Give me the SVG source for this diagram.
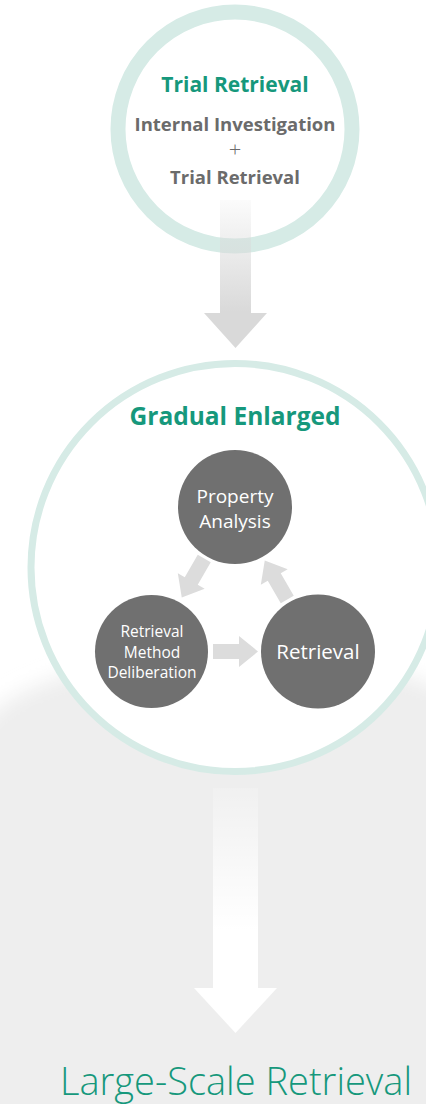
<svg xmlns="http://www.w3.org/2000/svg" width="426" height="1104" viewBox="0 0 426 1104">
<style>
.ring{fill:#ffffff;stroke:#d6ebe6}
.node{fill:#707070}
.teal{fill:#16987c;font-family:"Open Sans","Noto Sans",sans-serif;font-weight:700;text-anchor:middle}
.sub{fill:#6b6b6b;font-family:"Open Sans","Noto Sans",sans-serif;font-weight:700;font-size:18.5px;text-anchor:middle}
.plus{fill:#6b6b6b;font-family:"Open Sans","Noto Sans",sans-serif;font-weight:300;font-size:22px;text-anchor:middle}
.lbl{fill:#ffffff;font-family:"Open Sans","Noto Sans",sans-serif;text-anchor:middle}
.small{fill:#dcdcdc}
.final{fill:#16987c;font-family:"Open Sans","Noto Sans",sans-serif;font-weight:300;font-size:38px;text-anchor:middle}
</style>
<defs>
<filter id="soft" filterUnits="userSpaceOnUse" x="-200" y="400" width="826" height="900">
<feGaussianBlur stdDeviation="10"/>
</filter>
<linearGradient id="g1" gradientUnits="userSpaceOnUse" x1="0" y1="200" x2="0" y2="312">
<stop offset="0" stop-color="#d9d9d9" stop-opacity="0.1"/>
<stop offset="1" stop-color="#d9d9d9" stop-opacity="1"/>
</linearGradient>
<linearGradient id="g2" gradientUnits="userSpaceOnUse" x1="0" y1="788" x2="0" y2="930">
<stop offset="0" stop-color="#ffffff" stop-opacity="0.15"/>
<stop offset="1" stop-color="#ffffff" stop-opacity="1"/>
</linearGradient>
<path id="sa" d="M-22.5,-7.5 H3.5 V-15.5 L22.5,0 L3.5,15.5 V7.5 H-22.5 Z"/>
</defs>
<rect width="426" height="1104" fill="#ffffff"/>
<g id="background" filter="url(#soft)" fill="#eeeeee">
<ellipse cx="235" cy="750" rx="262" ry="98"/>
<rect x="-100" y="750" width="626" height="500"/>
</g>
<g id="trial">
<circle class="ring" cx="235" cy="129" r="117" stroke-width="15"/>
<text class="teal" x="235" y="92" font-size="21">Trial Retrieval</text>
<text class="sub" x="235" y="131">Internal Investigation</text>
<text class="plus" x="235" y="157">+</text>
<text class="sub" x="235" y="184">Trial Retrieval</text>
</g>
<g id="gradual">
<circle class="ring" cx="235" cy="567.5" r="204" stroke-width="7"/>
<text class="teal" x="235" y="425" font-size="24.5">Gradual Enlarged</text>
</g>
<g id="connectors">
<path d="M220,200 H251 V313 H267 L235.5,348 L204,313 H220 Z" fill="url(#g1)"/>
<use href="#sa" class="small" transform="translate(193,578) rotate(120)"/>
<use href="#sa" class="small" transform="translate(276,580) rotate(-120)"/>
<use href="#sa" class="small" transform="translate(235.5,651.5)"/>
<path d="M213,788 H258 V988 H277 L235.5,1033 L194,988 H213 Z" fill="url(#g2)"/>
</g>
<g id="property-analysis">
<circle class="node" cx="235" cy="507" r="57"/>
<text class="lbl" x="235" y="503" font-size="19">Property</text>
<text class="lbl" x="235" y="528" font-size="19">Analysis</text>
</g>
<g id="method-deliberation">
<circle class="node" cx="151.5" cy="651.5" r="56.5"/>
<text class="lbl" x="152" y="637" font-size="15.5">Retrieval</text>
<text class="lbl" x="152" y="658" font-size="15.5">Method</text>
<text class="lbl" x="152" y="678" font-size="15.5">Deliberation</text>
</g>
<g id="retrieval">
<circle class="node" cx="318" cy="651.5" r="57"/>
<text class="lbl" x="318" y="659" font-size="20.5">Retrieval</text>
</g>
<g id="large-scale">
<text class="final" x="236" y="1095">Large-Scale Retrieval</text>
</g>
</svg>
